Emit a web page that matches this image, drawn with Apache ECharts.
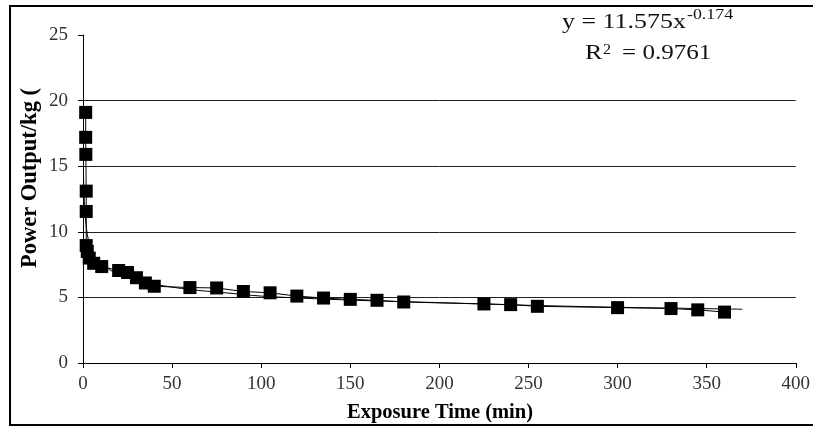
<!DOCTYPE html>
<html>
<head>
<meta charset="utf-8">
<script src="https://cdn.jsdelivr.net/npm/echarts@6/dist/echarts.min.js"></script>
<style>html,body{margin:0;padding:0;background:#fff;}#c{width:813px;height:433px;}</style>
</head>
<body>
<div id="c"></div>
<script>
// Measured data: exposure time (min) and power output per kg
var exposureTime = [1.5, 1.5, 1.6, 1.8, 1.8, 1.8, 2.4, 3.5, 6, 10.5,
  20, 25, 30, 35, 40,
  60, 75, 90, 105, 120, 135, 150, 165, 180,
  225, 240, 255, 300, 330, 345, 360];
var powerOutput = [19.1, 17.2, 15.9, 13.1, 11.55, 8.95, 8.5, 8.0, 7.6, 7.35,
  7.05, 6.9, 6.5, 6.1, 5.85,
  5.75, 5.72, 5.45, 5.35, 5.1, 4.95, 4.85, 4.78, 4.65,
  4.5, 4.45, 4.32, 4.22, 4.15, 4.05, 3.88];
// Power trendline
var trendTime = [0.3, 0.5, 1, 2, 3, 5, 7, 10, 15, 20, 30, 40, 60, 80, 100, 130, 160, 200, 250, 300, 370];
var trendValue = [14.3, 13.1, 11.6, 10.2, 9.4, 8.5, 8.0, 7.7, 7.1, 6.8, 6.35, 6.0, 5.6, 5.35, 5.1, 4.9, 4.75, 4.6, 4.4, 4.25, 4.1];
var xTicks = {min: 0, max: 400, step: 50};
var yTicks = {min: 0, max: 25, step: 5};
var xTitle = 'Exposure Time (min)';
var yTitle = 'Power Output/kg (';
var eqMain = 'y = 11.575x';
var eqExp = '-0.174';
var r2Main = 'R';
var r2Sup = '2';
var r2Rest = '= 0.9761';

function pairs(xs, ys) { return xs.map(function (x, i) { return [x, ys[i]]; }); }

var serif = '"Liberation Serif", "Times New Roman", serif';
var chart = echarts.init(document.getElementById('c'), null, {renderer: 'canvas'});
chart.setOption({
  animation: false,
  backgroundColor: '#fff',
  grid: {left: 83, right: 16, top: 35, bottom: 70},
  xAxis: {
    type: 'value', min: xTicks.min, max: xTicks.max, interval: xTicks.step,
    axisLine: {show: true, lineStyle: {color: '#000', width: 1}},
    axisTick: {show: true, inside: false, length: 5, lineStyle: {color: '#000'}},
    axisLabel: {color: '#333', fontFamily: serif, fontSize: 19, margin: 12},
    splitLine: {show: false}
  },
  yAxis: {
    type: 'value', min: yTicks.min, max: yTicks.max, interval: yTicks.step,
    axisLine: {show: true, lineStyle: {color: '#000', width: 1}},
    axisTick: {show: true, inside: false, length: 5, lineStyle: {color: '#000'}},
    axisLabel: {color: '#333', fontFamily: serif, fontSize: 19, margin: 15},
    splitLine: {show: true, showMaxLine: false, lineStyle: {color: '#222', width: 1}}
  },
  series: [
    {
      type: 'line', data: pairs(trendTime, trendValue), showSymbol: false, smooth: 0.3,
      lineStyle: {color: '#000', width: 1}, silent: true, z: 2
    },
    {
      type: 'line', data: pairs(exposureTime, powerOutput), symbol: 'rect', symbolSize: 13,
      itemStyle: {color: '#000'}, lineStyle: {color: '#000', width: 1}, z: 3
    }
  ],
  graphic: [
    {type: 'rect', shape: {x: 10, y: 6, width: 830, height: 419}, style: {fill: null, stroke: '#000', lineWidth: 2}, silent: true},
    {type: 'text', x: 440, y: 413, style: {text: xTitle, font: 'bold 20.5px ' + serif, fill: '#000', textAlign: 'center', textVerticalAlign: 'middle'}},
    {type: 'text', x: 30, y: 178, rotation: Math.PI / 2, style: {text: yTitle, font: 'bold 22.5px ' + serif, fill: '#000', textAlign: 'center', textVerticalAlign: 'middle'}},
    {type: 'text', x: 562, y: 33, scaleX: 1.18, style: {text: eqMain, font: '22px ' + serif, fill: '#111', textAlign: 'left', textVerticalAlign: 'bottom'}},
    {type: 'text', x: 687, y: 23, scaleX: 1.19, style: {text: eqExp, font: '15px ' + serif, fill: '#111', textAlign: 'left', textVerticalAlign: 'bottom'}},
    {type: 'text', x: 585, y: 64, scaleX: 1.18, style: {text: r2Main, font: '22px ' + serif, fill: '#111', textAlign: 'left', textVerticalAlign: 'bottom'}},
    {type: 'text', x: 603, y: 57, scaleX: 1.15, style: {text: r2Sup, font: '14px ' + serif, fill: '#111', textAlign: 'left', textVerticalAlign: 'bottom'}},
    {type: 'text', x: 622, y: 64, scaleX: 1.14, style: {text: r2Rest, font: '22px ' + serif, fill: '#111', textAlign: 'left', textVerticalAlign: 'bottom'}}
  ]
});
</script>
</body>
</html>
